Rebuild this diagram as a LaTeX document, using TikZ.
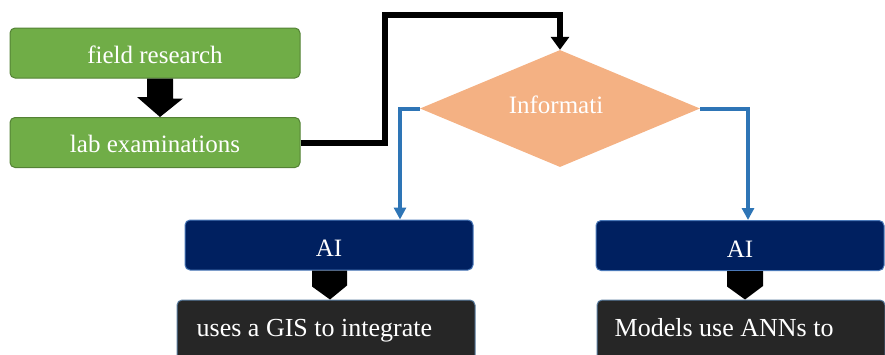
\documentclass[tikz,border=0pt]{standalone}
\usepackage{fontspec}
\setmainfont{Liberation Serif}
\usetikzlibrary{shapes.geometric,arrows.meta,calc}
\definecolor{gfill}{HTML}{70AD47}
\definecolor{gline}{HTML}{548235}
\definecolor{navy}{HTML}{002060}
\definecolor{navyline}{HTML}{4A78B8}
\definecolor{darkfill}{HTML}{262626}
\definecolor{darkline}{HTML}{5A7DA0}
\definecolor{peach}{HTML}{F4B183}
\definecolor{bluecon}{HTML}{2E75B6}
\tikzset{
  greenbox/.style={draw=gline, line width=1pt, fill=gfill, rounded corners=5pt, minimum width=290pt, minimum height=50pt, text=white, font=\fontsize{25}{28}\selectfont, inner sep=0pt, text height=20pt, text depth=0pt},
  aibox/.style={draw=navyline, line width=1pt, fill=navy, rounded corners=5pt, minimum width=288pt, minimum height=50pt, text=white, font=\fontsize{25}{28}\selectfont, inner sep=0pt, text height=23pt, text depth=0pt},
  darkbox/.style={draw=darkline, line width=1pt, fill=darkfill, rounded corners=5pt, minimum width=298pt, minimum height=80pt, inner sep=0pt},
  darktext/.style={text=white, font=\fontsize{26}{29}\selectfont, anchor=base west, inner sep=0pt},
  blockarrow/.style={fill=black, draw=none},
  bluelink/.style={draw=bluecon, line width=4pt, -{Triangle[width=12pt,length=12pt]}},
  blacklink/.style={draw=black, line width=6pt, -{Triangle[width=18pt,length=13pt]}},
}
\begin{document}
\begin{tikzpicture}[x=1pt,y=-1pt]
\useasboundingbox (0,0) rectangle (885,354);
\clip (0,0) rectangle (885,354);
% green boxes
\node[greenbox] (field) at (155,53) {field research};
\node[greenbox] (lab) at (155,142.5) {lab examinations};
% diamond
\node[diamond, fill=peach, draw=none, minimum width=280pt, minimum height=117pt, inner sep=0pt, aspect=2.39] (info) at (560,108.5) {};
\node[text=white, font=\fontsize{25}{28}\selectfont, inner sep=0pt, anchor=base] (infotext) at (556,113) {Informati};
% AI boxes
\node[aibox] (aiL) at (329,245) {AI};
\node[aibox] (aiR) at (740,245.5) {AI};
% dark boxes
\node[darkbox, minimum width=298pt] (dL) at (326,340) {};
\node[darkbox, minimum width=288pt] (dR) at (741,340) {};
\node[darktext] (tL) at ($(dL.north west)+(20,37)$) {uses a GIS to integrate};
\node[darktext] (tR) at ($(dR.north west)+(18,37)$) {Models use ANNs to};
% block arrow green
\fill[blockarrow] ($(field.south)+(-8,0)$) -- ++(26,0) -- ++(0,20) -- ++(10,0) -- ($(lab.north)+(5,0)$) -- ++(-23,-20) -- ++(10,0) -- cycle;
% pentagon arrows
\fill[blockarrow] ($(aiL.south)+(-17,0)$) -- ++(35,0) -- ++(0,15) -- ($(dL.north)+(4,0)$) -- ++(-18,-13) -- cycle;
\fill[blockarrow] ($(aiR.south)+(-13,0)$) -- ++(36,0) -- ++(0,15) -- ($(dR.north)+(4,0)$) -- ++(-18,-13) -- cycle;
% black elbow
\draw[blacklink] (lab.east) -- ++(84,0) |- ($(info.north)+(0,-35)$) -- (info.north);
% blue links
\draw[bluelink] (info.west) -| ($(aiL.north)+(71,0)$);
\draw[bluelink] (info.east) -| ($(aiR.north)+(8,0)$);
\end{tikzpicture}
\end{document}
